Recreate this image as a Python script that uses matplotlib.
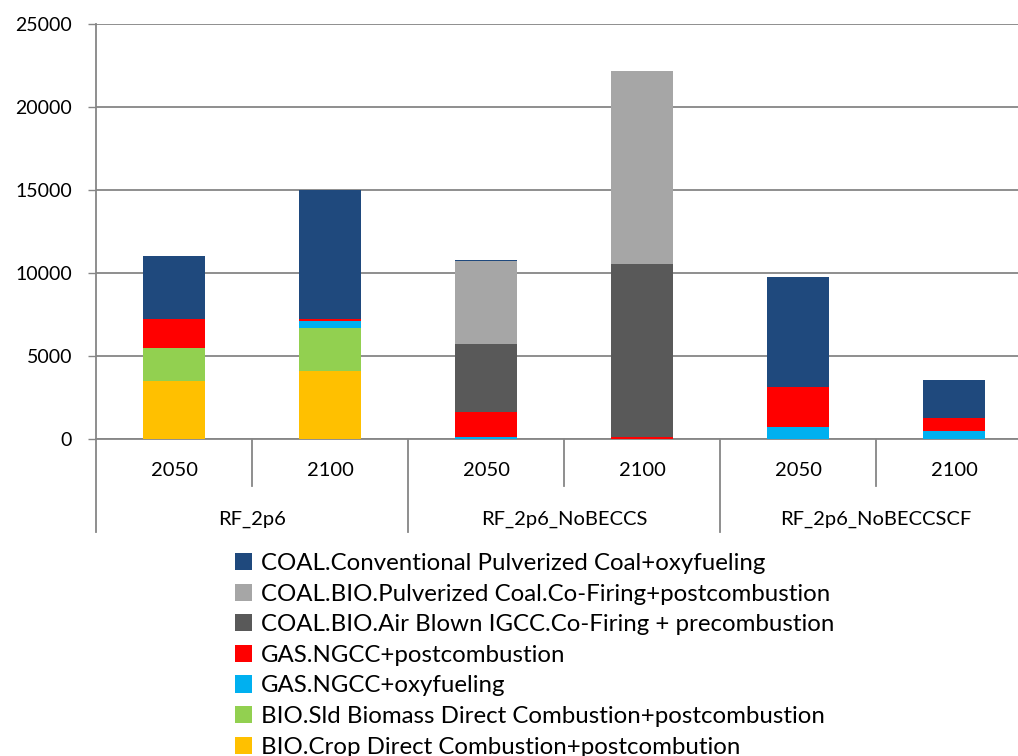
import matplotlib
matplotlib.use("Agg")
import matplotlib.pyplot as plt
from matplotlib.patches import Patch
import numpy as np

plt.rcParams["font.family"] = ["Lato", "DejaVu Sans"]

YEARS = ["2050", "2100", "2050", "2100", "2050", "2100"]
SCENARIOS = ["RF_2p6", "RF_2p6_NoBECCS", "RF_2p6_NoBECCSCF"]

# stacked bottom -> top
bio_crop = [3500, 4100, 0, 0, 0, 0]
bio_sld = [2000, 2600, 0, 0, 0, 0]
gas_oxy = [0, 400, 100, 0, 700, 500]
gas_post = [1700, 120, 1550, 120, 2450, 750]
coal_bio_igcc = [0, 0, 4100, 10430, 0, 0]
coal_bio_pc = [0, 0, 5000, 11600, 0, 0]
coal_conv = [3800, 7780, 50, 0, 6600, 2300]

SERIES = [
    ("BIO.Crop Direct Combustion+postcombution", bio_crop, "#FFC000"),
    ("BIO.Sld Biomass Direct Combustion+postcombustion", bio_sld, "#92D050"),
    ("GAS.NGCC+oxyfueling", gas_oxy, "#00B0F0"),
    ("GAS.NGCC+postcombustion", gas_post, "#FF0000"),
    ("COAL.BIO.Air Blown IGCC.Co-Firing + precombustion", coal_bio_igcc, "#595959"),
    ("COAL.BIO.Pulverized Coal.Co-Firing+postcombustion", coal_bio_pc, "#A6A6A6"),
    ("COAL.Conventional Pulverized Coal+oxyfueling", coal_conv, "#1F497D"),
]

W, H = 1018, 756
AXIS_GREY = "#868686"

fig = plt.figure(figsize=(W / 100, H / 100), dpi=100)
# plot area runs past the right edge, as in the original
ax = fig.add_axes([96 / W, (H - 439) / H, 936 / W, 415 / H])

x = np.arange(len(YEARS))
bottom = np.zeros(len(YEARS))
for label, vals, color in SERIES:
    vals = np.array(vals, dtype=float)
    ax.bar(x, vals, width=0.4, bottom=bottom, color=color, zorder=3)
    bottom += vals

ax.set_xlim(-0.5, 5.5)
ax.set_ylim(0, 25000)
ax.set_yticks(np.arange(0, 25001, 5000))
ax.yaxis.grid(True, color=AXIS_GREY, linewidth=1.3, zorder=0)
ax.tick_params(axis="y", length=5.8, width=1, color=AXIS_GREY, labelsize=14, pad=11.5)
ax.set_xticks([])
for side in ["top", "right"]:
    ax.spines[side].set_visible(False)
for side in ["left", "bottom"]:
    ax.spines[side].set_color(AXIS_GREY)
    ax.spines[side].set_linewidth(1.3)

# two-level category axis
tr = ax.get_xaxis_transform()
inner_len = 47 / 415
outer_len = 93 / 415
for xb in [0.5, 2.5, 4.5]:
    ax.plot([xb, xb], [0, -inner_len], transform=tr, color=AXIS_GREY, lw=1.3, clip_on=False)
for xb in [-0.5, 1.5, 3.5, 5.5]:
    ax.plot([xb, xb], [0, -outer_len], transform=tr, color=AXIS_GREY, lw=1.3, clip_on=False)
for xi, yr in zip(x, YEARS):
    ax.text(xi, -31 / 415, yr, transform=tr, ha="center", va="center", fontsize=14.5)
for gi, name in enumerate(SCENARIOS):
    ax.text(2 * gi + 0.5, -80 / 415, name, transform=tr, ha="center", va="center", fontsize=14.5)

handles = [Patch(facecolor=c, label=l) for l, _, c in SERIES[::-1]]
fig.legend(handles=handles, loc="upper left", bbox_to_anchor=(235 / W, (H - 553) / H),
           frameon=False, fontsize=17.3, handlelength=0.72, handleheight=0.72,
           handletextpad=0.35, labelspacing=0.40, borderpad=0, borderaxespad=0)

fig.savefig("out.png", dpi=100)
